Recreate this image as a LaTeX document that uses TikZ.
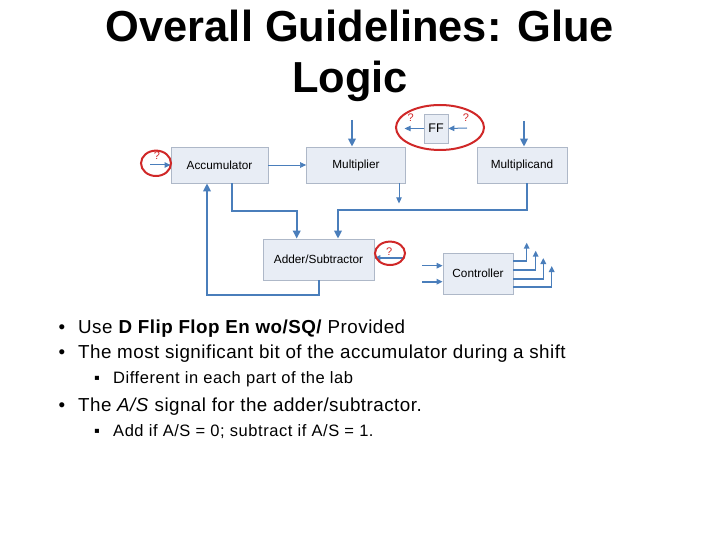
\documentclass[tikz,border=0pt]{standalone}
\usepackage{fontspec}
\setmainfont{Liberation Sans}
\newfontfamily\itemfont[LetterSpace=2.5]{Liberation Sans}
\newfontfamily\subfont[LetterSpace=3.4]{Liberation Sans}
\usetikzlibrary{arrows.meta, positioning, calc}
\definecolor{boxfill}{HTML}{E8EDF5}
\definecolor{boxline}{HTML}{AEB8C8}
\definecolor{wire}{HTML}{4A7EBB}
\definecolor{mark}{HTML}{D02828}

\begin{document}
\begin{tikzpicture}[
    x=1pt, y=-1pt,
    blk/.style={
        draw=boxline,
        fill=boxfill,
        line width=0.8pt,
        inner sep=0pt,
        font=\fontsize{11.8}{14}\selectfont
    },
    bus/.style={
        -{Triangle[length=8pt,width=7.5pt]},
        line width=2pt,
        draw=wire
    },
    sig/.style={
        -{Triangle[length=6pt,width=5.5pt]},
        line width=1pt,
        draw=wire
    },
    ring/.style={
        draw=mark,
        line width=2pt
    },
    qmark/.style={
        text=mark,
        inner sep=0pt,
        font=\fontsize{11}{12}\selectfont
    },
    item/.style={
        anchor=base west,
        inner sep=0pt,
        font=\fontsize{18.8}{22}\itemfont
    },
    subitem/.style={
        anchor=base west,
        inner sep=0pt,
        font=\fontsize{16.5}{19}\subfont
    }
]
\useasboundingbox (0,0) rectangle (720,540);

% Title
\node (title1) [anchor=base, font=\fontsize{43.4}{51}\selectfont\bfseries] at (360,42) {Overall Guidelines: Glue};
\node (title2) [anchor=base, font=\fontsize{43.4}{51}\selectfont\bfseries] at (350,93) {Logic};

% Nodes
\node (acc) [blk, minimum width=97pt, minimum height=36pt] at (219.5,165) {Accumulator};
\node (mult) [blk, minimum width=99pt, minimum height=36pt] at (356,165) {Multiplier};
\node (mcand) [blk, minimum width=90pt, minimum height=36pt] at (522,165) {Multiplicand};
\node (ff) [blk, minimum width=24pt, minimum height=29pt, font=\fontsize{12.5}{14}\selectfont] at (436,128.5) {FF};
\node (add) [blk, minimum width=111pt, minimum height=41pt] at (318.5,259.5) {Adder/Subtractor};
\node (ctrl) [blk, minimum width=70pt, minimum height=41pt] at (478,273.5) {Controller};

% Free ends
\coordinate (accin) at (150,165);
\coordinate (multin) at (352,120);
\coordinate (mcandin) at (524,121);
\coordinate (addin) at (404,258);
\coordinate (ffin) at (467,128);
\coordinate (ctrlinA) at (422,265.7);
\coordinate (ctrlinB) at (422,281.7);

% Paths
\draw [sig] (accin) -- (accin -| acc.west);
\draw [sig, line width=0.6pt] (acc) -- (mult);
\draw [bus] (multin) -- (multin |- mult.north);
\draw [bus] (mcandin) -- (mcandin |- mcand.north);
\draw [sig] ([xshift=43]mult.south) -- ++(0,20);
\draw [bus] ([xshift=12.5]acc.south) -- ++(0,28) -| ([xshift=-21.8]add.north);
\draw [bus] ([xshift=4.5]mcand.south) -- ++(0,27) -| ([xshift=19.5]add.north);
\draw [bus] ([xshift=0.5]add.south) -- ++(0,15) -| ([xshift=-12.5]acc.south);
\draw [sig, line width=1.5pt] (addin) -- (addin -| add.east);
\draw [sig] (ff.west) -- ++(-19,0);
\draw [sig] (ffin) -- (ff.east);
\draw [sig] (ctrlinA) -- (ctrlinA -| ctrl.west);
\draw [sig, line width=1.6pt] (ctrlinB) -- (ctrlinB -| ctrl.west);
\foreach \ys/\xe/\ye in {12.5/526.7/242.7, 3.5/535.7/250.7, -5.5/543.3/258, -13.5/551.7/266}
    \draw [sig, line width=1.5pt] ([yshift=\ys]ctrl.east) -| (\xe,\ye);

% Red marks
\draw [ring] (156,163.3) ellipse [x radius=15, y radius=12.7];
\draw [ring] (390,253.3) ellipse [x radius=15, y radius=11.7];
\draw [ring] (440,127.5) ellipse [x radius=44, y radius=22.5];
\node (qacc) [qmark] at (157,156) {?};
\node (qadd) [qmark] at (389.3,251.7) {?};
\node (qffout) [qmark] at (410.7,117.3) {?};
\node (qffin) [qmark] at (466,117.3) {?};

% Bullets
\node (b1) [item] at (58.5,333.3) {•};
\node (t1) [item] at (78,333.3) {Use \textbf{D Flip Flop En wo/SQ/} Provided};
\node (b2) [item] at (58.5,358.3) {•};
\node (t2) [item] at (78,358.3) {The most significant bit of the accumulator during a shift};
\node (b3) [subitem] at (94,383.3) {▪};
\node (t3) [subitem] at (113,383.3) {Different in each part of the lab};
\node (b4) [item] at (58.5,411.7) {•};
\node (t4) [item] at (78,411.7) {The \textit{A/S} signal for the adder/subtractor.};
\node (b5) [subitem] at (94,436.7) {▪};
\node (t5) [subitem] at (113,436.7) {Add if A/S = 0; subtract if A/S = 1.};

\end{tikzpicture}
\end{document}
